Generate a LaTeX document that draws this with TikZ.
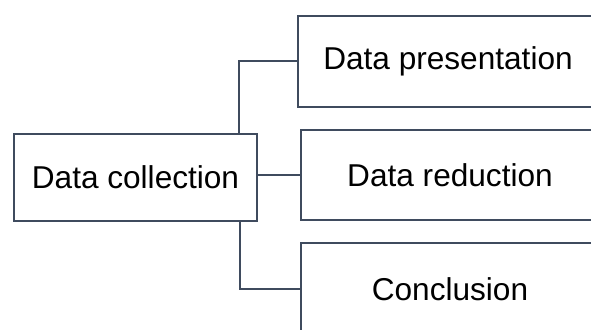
\documentclass[tikz,border=0pt]{standalone}
\usepackage{fontspec}
\setmainfont{Liberation Sans}
\definecolor{edge}{HTML}{3F4B5E}
\begin{document}
\begin{tikzpicture}[x=1pt,y=1pt,
  box/.style={draw=edge, line width=2pt, fill=white, inner sep=0pt,
    font=\fontsize{31.6}{38}\selectfont, text=black},
  link/.style={draw=edge, line width=2pt}]
\useasboundingbox (0,0) rectangle (591,-329);
\clip (0,0) rectangle (591,-329);
\node[box, minimum width=243pt, minimum height=87pt] (dc) at (135.5,-177.5) {Data collection};
\node[box, minimum width=300pt, minimum height=90.5pt] (b1) at (448,-61.25) {Data presentation};
\node[box, minimum width=298pt, minimum height=90pt] (b2) at (450,-175) {Data reduction};
\node[box, minimum width=298pt, minimum height=92pt] (b3) at (450,-289) {Conclusion};
\coordinate (j1) at (239,0);
\coordinate (j3) at (240,0);
\draw[link] (dc.north -| j1) |- (b1.west);
\draw[link] (dc.east |- b2.west) -- (b2.west);
\draw[link] (dc.south -| j3) |- (b3.west);
\end{tikzpicture}
\end{document}
